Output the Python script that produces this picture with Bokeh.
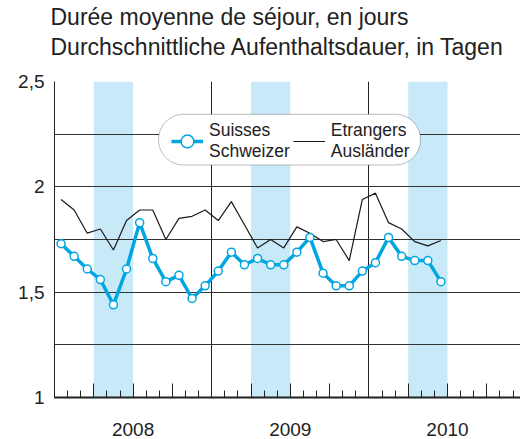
from bokeh.plotting import figure
from bokeh.models import Range1d, FixedTicker, BoxAnnotation, Legend, LegendItem, Title
from bokeh.embed import file_html
from bokeh.resources import INLINE

# ---- data ----
title_lines = ["Durée moyenne de séjour, en jours",
               "Durchschnittliche Aufenthaltsdauer, in Tagen"]
years = ["2008", "2009", "2010"]
swiss = [1.73, 1.67, 1.61, 1.56, 1.44, 1.61, 1.83, 1.66, 1.55, 1.58, 1.47, 1.53,
         1.60, 1.69, 1.63, 1.66, 1.63, 1.63, 1.69, 1.76, 1.59, 1.53, 1.53, 1.60,
         1.64, 1.76, 1.67, 1.65, 1.65, 1.55]
foreign = [1.94, 1.89, 1.78, 1.80, 1.70, 1.84, 1.89, 1.89, 1.75, 1.85, 1.86, 1.89,
           1.84, 1.93, 1.82, 1.71, 1.75, 1.71, 1.81, 1.78, 1.74, 1.75, 1.65, 1.94,
           1.97, 1.83, 1.80, 1.74, 1.72, 1.745]
band_start = [3, 15, 27]   # month index (Apr) of each shaded season
band_end = [6, 18, 30]     # month index (end of Jun)
y_ticks = [1, 1.5, 2, 2.5]
y_tick_labels = ["1", "1,5", "2", "2,5"]
y_grid = [1.25, 1.5, 1.75, 2, 2.25, 2.5]

months = [i + 0.5 for i in range(len(swiss))]

FONT = "Liberation Sans"
TXT = "#222222"
BLUE = "#00a6e2"
PX_PER_MONTH = 13.1
W, H = 520, 439
LEFT, TOP, BOTTOM = 54, 79, 42

p = figure(width=W, height=H, output_backend="svg", toolbar_location=None,
           x_range=Range1d(0, (W - LEFT) / PX_PER_MONTH), y_range=Range1d(1, 2.5),
           min_border_left=LEFT, min_border_right=0, min_border_top=TOP,
           min_border_bottom=BOTTOM)
p.outline_line_color = None
p.background_fill_color = "white"
p.border_fill_color = "white"
p.title.text = ""
p.title.standoff = 0

# title block (first added sits nearest the frame): spacer, line 2, line 1
p.add_layout(Title(text=" ", text_font_size="1px", text_color="white", standoff=18), "above")
for line in reversed(title_lines):
    p.add_layout(Title(text=line, text_font=FONT, text_font_size="23px",
                       text_font_style="normal", text_color=TXT, align="left",
                       offset=-4, standoff=2), "above")

# shaded seasons
p.quad(left=band_start, right=band_end, bottom=1, top=2.5,
       fill_color="#c8e9f8", line_color=None, level="image")

# series
r_for = p.line(months, foreign, line_color="#1a1a1a", line_width=1.2)
r_sw_line = p.line(months, swiss, line_color=BLUE, line_width=3.5)
r_sw_pts = p.scatter(months, swiss, size=8, fill_color="white",
                     line_color=BLUE, line_width=1.5)

# y axis
p.yaxis.ticker = FixedTicker(ticks=y_ticks)
p.yaxis.major_label_overrides = dict(zip(y_ticks, y_tick_labels))
p.yaxis.major_tick_line_color = None
p.yaxis.minor_tick_line_color = None
p.yaxis.axis_line_color = TXT
p.yaxis.major_label_standoff = 4
p.yaxis.major_label_text_font = FONT
p.yaxis.major_label_text_font_size = "19px"
p.yaxis.major_label_text_color = TXT

# x axis: quarter ticks long, month ticks short, year labels mid-year
quarter_ticks = list(range(0, 37, 3))
year_mid = [12 * k + 6 for k in range(len(years))]
overrides = {t: "" for t in quarter_ticks}
overrides.update(dict(zip(year_mid, years)))
p.xaxis.ticker = FixedTicker(ticks=quarter_ticks, minor_ticks=list(range(0, 36)))
p.xaxis.major_label_overrides = overrides
p.xaxis.major_tick_in = 14
p.xaxis.major_tick_out = 0
p.xaxis.minor_tick_in = 7
p.xaxis.minor_tick_out = 0
p.xaxis.major_tick_line_color = TXT
p.xaxis.minor_tick_line_color = TXT
p.xaxis.axis_line_color = TXT
p.xaxis.axis_line_width = 2
p.xaxis.major_label_standoff = 25
p.xaxis.major_label_text_line_height = 0.75
p.xaxis.major_label_text_font = FONT
p.xaxis.major_label_text_font_size = "19px"
p.xaxis.major_label_text_color = TXT

# grids
p.xgrid.ticker = FixedTicker(ticks=[12, 24])
p.xgrid.grid_line_color = TXT
p.xgrid.grid_line_width = 1
p.ygrid.ticker = FixedTicker(ticks=y_grid)
p.ygrid.grid_line_color = "#333333"
p.ygrid.grid_line_width = 1

# legend: rounded white box + transparent legend on top
box = BoxAnnotation(left=(158 - LEFT) / PX_PER_MONTH, right=(420 - LEFT) / PX_PER_MONTH,
                    top=1 + (397 - 112) / 212, bottom=1 + (397 - 163) / 212,
                    fill_color="white", fill_alpha=1, line_color=TXT, line_width=1,
                    border_radius=25)
p.add_layout(box)

legend = Legend(items=[LegendItem(label="Suisses\nSchweizer", renderers=[r_sw_line, r_sw_pts]),
                       LegendItem(label="Etrangers\nAusländer", renderers=[r_for])],
                orientation="horizontal", location=(117, 235),
                background_fill_alpha=0, border_line_color=None,
                padding=4, margin=0, spacing=3,
                glyph_width=32, glyph_height=40, label_height=40, label_standoff=6,
                label_text_font=FONT, label_text_font_size="17.5px",
                label_text_color=TXT, label_text_line_height=1.3)
p.add_layout(legend)

open("out.html", "w").write(file_html(p, INLINE))
